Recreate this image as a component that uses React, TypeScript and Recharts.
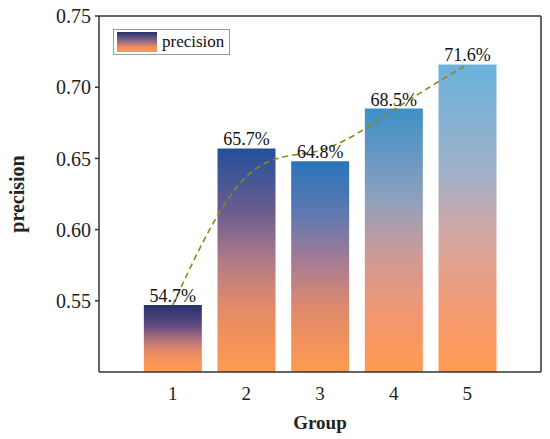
import { ComposedChart, Bar, Line, XAxis, YAxis, Cell, LabelList, ReferenceLine } from 'recharts';

const groups = [1, 2, 3, 4, 5];
const precision = [0.547, 0.657, 0.648, 0.685, 0.716];
const yTicks = [0.55, 0.6, 0.65, 0.7, 0.75];

const data = groups.map((g, i) => ({ group: g, precision: precision[i] }));

const gradients = [
    [['0%', '#26306e'], ['30%', '#5e4a80'], ['55%', '#c07878'], ['78%', '#f4925c'], ['100%', '#ff9a50']],
    [['0%', '#23509a'], ['28%', '#6a5d90'], ['50%', '#b07a88'], ['72%', '#e58b66'], ['100%', '#ff9a50']],
    [['0%', '#2a74bb'], ['25%', '#5e78b0'], ['48%', '#a87c94'], ['70%', '#e08a6c'], ['100%', '#ff9a50']],
    [['0%', '#3e90c8'], ['35%', '#90a0bc'], ['55%', '#cc9a98'], ['78%', '#f19670'], ['100%', '#ff9a50']],
    [['0%', '#6bb2dd'], ['35%', '#a0b0c8'], ['55%', '#d2a6a2'], ['80%', '#f49a72'], ['100%', '#ff9a50']],
];

const font = "'Liberation Serif', 'Times New Roman', serif";

function LegendBox() {
    return (
        <div style={{ position: 'absolute', left: 113, top: 29, display: 'flex', alignItems: 'center', border: '1px solid #999', padding: '2px 5px 2px 3px', background: '#fff', fontFamily: font, fontSize: 17, color: '#111' }}>
            <svg width={40} height={20} style={{ marginRight: 5, display: 'block' }}>
                <defs>
                    <linearGradient id="legGrad" x1="0" y1="0" x2="0" y2="1">
                        <stop offset="0%" stopColor="#26306e" />
                        <stop offset="45%" stopColor="#8a6a88" />
                        <stop offset="75%" stopColor="#f08c5e" />
                        <stop offset="100%" stopColor="#ff9a50" />
                    </linearGradient>
                </defs>
                <rect x={0} y={0} width={40} height={20} fill="url(#legGrad)" />
            </svg>
            <span>precision</span>
        </div>
    );
}

export default function App() {
    return (
        <div style={{ position: 'absolute', left: 0, top: 0, width: 550, height: 439, background: '#fff' }}>
            <ComposedChart width={550} height={439} data={data} margin={{ top: 16, right: 9, left: 0, bottom: 0 }}>
                <defs>
                    {gradients.map((stops, i) => (
                        <linearGradient key={i} id={`barGrad${i}`} x1="0" y1="0" x2="0" y2="1">
                            {stops.map(([o, c]) => <stop key={o} offset={o} stopColor={c} />)}
                        </linearGradient>
                    ))}
                </defs>
                <XAxis
                    dataKey="group"
                    type="number"
                    domain={[0, 6]}
                    ticks={groups}
                    height={67}
                    tickLine={false}
                    tickMargin={9}
                    stroke="#333"
                    strokeWidth={1.5}
                    allowDataOverflow
                    tick={{ fontFamily: font, fontSize: 19, fill: '#222' }}
                    label={{ value: 'Group', position: 'insideBottom', offset: 10, style: { fontFamily: font, fontSize: 19, fontWeight: 'bold', fill: '#222' } }}
                />
                <YAxis
                    domain={[0.5, 0.75]}
                    ticks={yTicks}
                    width={99}
                    tickSize={4}
                    tickMargin={4}
                    stroke="#333"
                    strokeWidth={1.5}
                    tickFormatter={(v: number) => v.toFixed(2)}
                    tick={{ fontFamily: font, fontSize: 20, fill: '#222' }}
                    allowDataOverflow
                    label={{ value: 'precision', angle: -90, position: 'insideLeft', offset: 17, style: { textAnchor: 'middle', fontFamily: font, fontSize: 20, fontWeight: 'bold', fill: '#222' } }}
                />
                <ReferenceLine y={0.75} stroke="#333" strokeWidth={1.5} />
                <ReferenceLine x={6} stroke="#333" strokeWidth={1.5} />
                <Bar dataKey="precision" barSize={58} isAnimationActive={false}>
                    {data.map((d, i) => <Cell key={d.group} fill={`url(#barGrad${i})`} />)}
                    <LabelList
                        dataKey="precision"
                        position="top"
                        offset={3}
                        formatter={(v: number) => (v * 100).toFixed(1) + '%'}
                        style={{ fontFamily: font, fontSize: 18, fill: '#111' }}
                    />
                </Bar>
                <Line
                    dataKey="precision"
                    type="basis"
                    stroke="#8a8a14"
                    strokeWidth={1.6}
                    strokeDasharray="6 4"
                    dot={false}
                    activeDot={false}
                    isAnimationActive={false}
                />
            </ComposedChart>
            <LegendBox />
        </div>
    );
}
